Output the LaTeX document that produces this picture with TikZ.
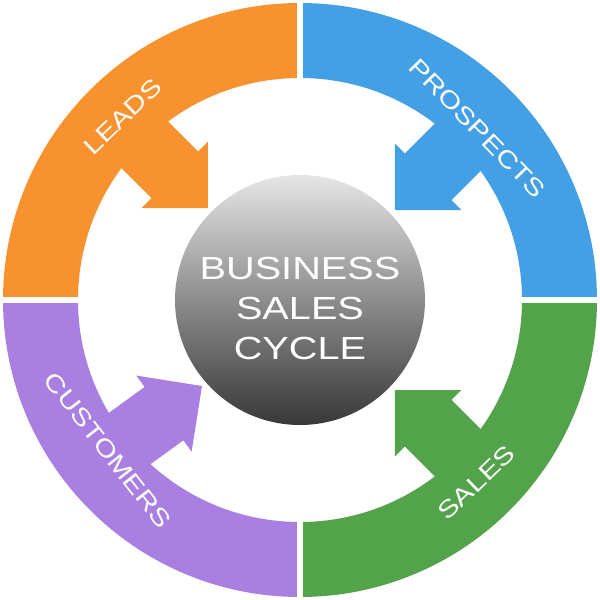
\documentclass[tikz,border=0pt]{standalone}
\usepackage{fontspec}
\setmainfont{Liberation Sans}
\newfontfamily\widesans[FakeStretch=1.24]{Liberation Sans}
\definecolor{leadsorange}{RGB}{247,146,47}
\definecolor{prospectblue}{RGB}{68,160,228}
\definecolor{salesgreen}{RGB}{82,163,74}
\definecolor{custpurple}{RGB}{169,127,226}

\begin{document}
\begin{tikzpicture}[x=1pt, y=1pt,
  ringlabel/.style={text=white, inner sep=0pt, font=\widesans\fontsize{24}{28}\selectfont},
  hub/.style={circle, minimum size=250, inner sep=0pt, top color=gray!20, bottom color=black!78, middle color=gray!90}]
  \useasboundingbox (-300,-300) rectangle (300,300);

  % the four quarter rings
  \foreach \a/\col in {90/leadsorange, 0/prospectblue, -90/salesgreen, 180/custpurple}
    \fill[\col] ({\a+0.6}:297) arc[start angle=\a+0.6, end angle=\a+89.4, radius=297]
      -- ({\a+89.2}:222) arc[start angle=\a+89.2, end angle=\a+0.8, radius=222] -- cycle;

  % arrows towards the hub
  \foreach \tx/\ty/\r/\col in {-92/92/135/leadsorange, 95/90/45/prospectblue, 95/-90/-45/salesgreen, -98/-86/216/custpurple}
    \fill[\col, shift={(\tx,\ty)}, rotate=\r] (0,0) -- (47,47) -- (47,33) -- (115,33)
      -- (115,-33) -- (47,-33) -- (47,-47) -- cycle;

  \node[ringlabel, rotate=44] (leads) at (134:255) {LEADS};
  \node[ringlabel, rotate=-46] (prospects) at (44:247) {PROSPECTS};
  \node[ringlabel, rotate=44] (sales) at (-46:254) {SALES};
  \node[ringlabel, rotate=-52] (customers) at (218:244) {CUSTOMERS};

  \node[hub] (core) at (0,0) {};
%  \draw (core) circle (297);
  \node[text=white, align=center, inner sep=0pt, font=\widesans\fontsize{32}{40}\selectfont]
    (title) at ([yshift=-8]core.center) {BUSINESS\\SALES\\CYCLE};
\end{tikzpicture}
\end{document}
